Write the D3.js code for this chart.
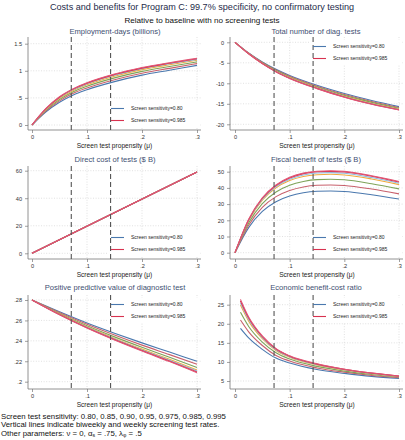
<!DOCTYPE html>
<html><head><meta charset="utf-8">
<script src="https://cdn.jsdelivr.net/npm/d3@7"></script>
<style>
body{margin:0;background:#fff;}
svg{display:block;font-family:"Liberation Sans",Arial,sans-serif;}
</style></head>
<body><svg id="c" width="405" height="440"></svg>
<script>
// ---------------- DATA ----------------
const sensitivities = ["0.80","0.85","0.90","0.95","0.975","0.985","0.995"];
const legendShown = [0, 5];
const xTickValues = [0, 0.1, 0.2, 0.3];
const xTickLabels = ["0", ".1", ".2", ".3"];
const screeningRates = [1/14, 1/7];

const xEmp = [0, .025, .05, .075, .1, .15, .2, .25, .3];
const empDays = [
  [0, .24, .42, .555, .65, .80, .92, 1.01, 1.10],
  [0, .255, .445, .584, .683, .835, .955, 1.045, 1.133],
  [0, .27, .47, .613, .715, .87, .99, 1.08, 1.165],
  [0, .283, .492, .638, .744, .901, 1.021, 1.111, 1.194],
  [0, .291, .505, .653, .761, .919, 1.039, 1.129, 1.211],
  [0, .296, .513, .662, .771, .930, 1.050, 1.140, 1.221],
  [0, .30, .52, .67, .78, .94, 1.06, 1.15, 1.23]
];
const empTicks = [0, .5, 1, 1.5], empTickLabels = ["0", ".5", "1", "1.5"];

const xDiag = [0, .025, .05, .075, .1, .15, .2, .25, .3];
const diagTests = [
  [0, -2.6, -4.8, -6.6, -8.1, -10.5, -12.5, -14.2, -15.7],
  [0, -2.65, -4.9, -6.75, -8.28, -10.7, -12.73, -14.43, -15.9],
  [0, -2.7, -5.0, -6.9, -8.45, -10.9, -12.95, -14.65, -16.1],
  [0, -2.74, -5.09, -7.03, -8.6, -11.08, -13.15, -14.85, -16.28],
  [0, -2.77, -5.14, -7.11, -8.7, -11.18, -13.27, -14.97, -16.38],
  [0, -2.79, -5.17, -7.16, -8.75, -11.24, -13.34, -15.04, -16.44],
  [0, -2.8, -5.2, -7.2, -8.8, -11.3, -13.4, -15.1, -16.5]
];
const diagTicks = [0, -5, -10, -15, -20], diagTickLabels = ["0", "-5", "-10", "-15", "-20"];

const xCost = [0, .3];
const directCost = [
  [0, 59], [0, 59], [0, 59], [0, 59], [0, 59], [0, 59], [0, 59]
];
const costTicks = [0, 20, 40, 60], costTickLabels = ["0", "20", "40", "60"];

const xFiscal = [0, .025, .05, .075, .1, .125, .15, .175, .2, .25, .3];
const fiscalBenefit = [
  [0, 15.5, 25.5, 31.5, 35.0, 37.0, 37.9, 38.1, 37.8, 35.8, 33.1],
  [0, 17.0, 28.0, 34.6, 38.4, 40.6, 41.6, 41.8, 41.5, 39.3, 36.3],
  [0, 18.4, 30.3, 37.5, 41.7, 44.0, 45.1, 45.3, 45.0, 42.6, 39.4],
  [0, 19.7, 32.4, 40.0, 44.5, 47.0, 48.1, 48.4, 48.0, 45.5, 42.0],
  [0, 20.1, 33.1, 40.9, 45.4, 48.0, 49.2, 49.4, 49.0, 46.4, 42.9],
  [0, 20.4, 33.6, 41.5, 46.1, 48.8, 50.0, 50.2, 49.8, 47.2, 43.6],
  [0, 20.6, 33.9, 41.8, 46.5, 49.1, 50.3, 50.6, 50.2, 47.5, 44.0]
];
const fiscalTicks = [0, 10, 20, 30, 40, 50], fiscalTickLabels = ["0", "10", "20", "30", "40", "50"];

const xPpv = [0, .05, .1, .15, .2, .25, .3];
const ppv = [
  [.28, .2685, .2575, .2475, .2380, .2290, .2200],
  [.28, .2677, .2562, .2457, .2358, .2265, .2170],
  [.28, .2669, .2548, .2439, .2337, .2240, .2140],
  [.28, .2662, .2537, .2424, .2319, .2219, .2115],
  [.28, .2659, .2532, .2417, .2311, .2210, .2104],
  [.28, .2657, .2528, .2413, .2306, .2203, .2096],
  [.28, .2655, .2525, .2408, .2300, .2197, .2088]
];
const ppvTicks = [.2, .22, .24, .26, .28], ppvTickLabels = [".2", ".22", ".24", ".26", ".28"];

const xBcr = [.01, .025, .05, .075, .1, .15, .2, .25, .3];
const benefitCost = [
  [18.8, 16.3, 13.3, 11.0, 9.7, 8.0, 7.0, 6.2, 5.7],
  [21.0, 17.9, 14.3, 11.7, 10.25, 8.43, 7.32, 6.46, 5.87],
  [23.0, 19.3, 15.2, 12.4, 10.75, 8.83, 7.6, 6.7, 6.03],
  [24.9, 20.7, 16.1, 13.0, 11.22, 9.2, 7.88, 6.92, 6.18],
  [25.5, 21.1, 16.4, 13.2, 11.37, 9.32, 7.97, 6.99, 6.23],
  [26.0, 21.5, 16.6, 13.38, 11.5, 9.43, 8.05, 7.06, 6.27],
  [26.4, 21.8, 16.8, 13.5, 11.6, 9.5, 8.1, 7.1, 6.3]
];
const bcrTicks = [5, 10, 15, 20, 25], bcrTickLabels = ["5", "10", "15", "20", "25"];

const titleText = "Costs and benefits for Program C: 99.7% specificity, no confirmatory testing";
const subtitleText = "Relative to baseline with no screening tests";
const xAxisTitle = "Screen test propensity (\u03bc)";
// ---------------- STYLE ----------------
const colors = ["#4a78ae", "#c8606c", "#7ea45a", "#f1ab3c", "#8fbddf", "#d8324f", "#e05675"];

// ---------------- LAYOUT ----------------
const cols = [
  {axisX: 28, x0: 32, x1: 197, right: 201, titleX: 115, legX: 108},
  {axisX: 230, x0: 235, x1: 399, right: 403, titleX: 316, legX: 310}
];
const rows = [
  {top: 37, bottom: 130, titleY: 34},
  {top: 166, bottom: 259, titleY: 162},
  {top: 295, bottom: 389, titleY: 290}
];

const panels = [
  {col:0,row:0,title:"Employment-days (billions)", xs:xEmp, data:empDays, ticks:empTicks, labels:empTickLabels, ref:[0,1.5], pix:[125,43.7], legendTop:false},
  {col:1,row:0,title:"Total number of diag. tests", xs:xDiag, data:diagTests, ticks:diagTicks, labels:diagTickLabels, ref:[0,-20], pix:[42.3,124.3], legendTop:true},
  {col:0,row:1,title:"Direct cost of tests ($ B)", xs:xCost, data:directCost, ticks:costTicks, labels:costTickLabels, ref:[0,60], pix:[253.3,170.7], legendTop:false},
  {col:1,row:1,title:"Fiscal benefit of tests ($ B)", xs:xFiscal, data:fiscalBenefit, ticks:fiscalTicks, labels:fiscalTickLabels, ref:[0,50], pix:[252.7,171.7], legendTop:false},
  {col:0,row:2,title:"Positive predictive value of diagnostic test", xs:xPpv, data:ppv, ticks:ppvTicks, labels:ppvTickLabels, ref:[.2,.28], pix:[381.7,300], legendTop:true},
  {col:1,row:2,title:"Economic benefit-cost ratio", xs:xBcr, data:benefitCost, ticks:bcrTicks, labels:bcrTickLabels, ref:[5,25], pix:[381,304.7], legendTop:true}
];

const svg = d3.select("#c");
svg.append("text").attr("x", 202).attr("y", 10).attr("text-anchor","middle")
  .attr("font-size", 9.1).attr("fill", "#1e2b4a").text(titleText);
svg.append("text").attr("x", 202).attr("y", 23).attr("text-anchor","middle")
  .attr("font-size", 8.1).attr("fill", "#111").text(subtitleText);

panels.forEach(p => {
  const c = cols[p.col], r = rows[p.row];
  const g = svg.append("g");
  const x = d3.scaleLinear().domain([0, .3]).range([c.x0, c.x1]);
  const y = d3.scaleLinear().domain(p.ref).range(p.pix);

  g.append("text").attr("x", c.titleX).attr("y", r.titleY).attr("text-anchor","middle")
    .attr("font-size", 7.6).attr("fill", "#3e4f72").text(p.title);

  g.selectAll(".hg").data(p.ticks).join("line")
    .attr("x1", c.axisX).attr("x2", c.right)
    .attr("y1", d => y(d)).attr("y2", d => y(d))
    .attr("stroke", "#d4d4d4").attr("stroke-width", 0.7).attr("stroke-dasharray", "1,1.6");
  g.selectAll(".vg").data(xTickValues.slice(1)).join("line")
    .attr("x1", d => x(d)).attr("x2", d => x(d))
    .attr("y1", r.top).attr("y2", r.bottom)
    .attr("stroke", "#d4d4d4").attr("stroke-width", 0.7).attr("stroke-dasharray", "1,1.6");

  const yAxis = d3.axisLeft(y).tickValues(p.ticks).tickFormat((d,i) => p.labels[i]).tickSize(3).tickPadding(3);
  const ya = g.append("g").attr("transform", `translate(${c.axisX},0)`).call(yAxis);
  ya.select(".domain").remove();
  ya.append("line").attr("x1",0).attr("x2",0).attr("y1", r.top).attr("y2", r.bottom).attr("stroke","#777").attr("stroke-width",0.8);
  ya.selectAll(".tick line").attr("stroke","#777").attr("stroke-width",0.7);
  ya.selectAll(".tick text").attr("font-size", 5.6).attr("fill","#333").attr("font-family","Liberation Sans, Arial, sans-serif");

  const xAxis = d3.axisBottom(x).tickValues(xTickValues).tickFormat((d,i) => xTickLabels[i]).tickSize(3).tickPadding(2);
  const xa = g.append("g").attr("transform", `translate(0,${r.bottom})`).call(xAxis);
  xa.select(".domain").remove();
  xa.append("line").attr("x1", c.axisX).attr("x2", c.right).attr("y1",0).attr("y2",0).attr("stroke","#777").attr("stroke-width",0.8);
  xa.selectAll(".tick line").attr("stroke","#777").attr("stroke-width",0.7);
  xa.selectAll(".tick text").attr("font-size", 5.6).attr("fill","#333").attr("font-family","Liberation Sans, Arial, sans-serif");

  g.append("text").attr("x", (c.x0 + c.x1)/2).attr("y", r.bottom + 17.5).attr("text-anchor","middle")
    .attr("font-size", 6.6).attr("fill","#222").text(xAxisTitle);

  const ly0 = p.legendTop ? r.top + 3 : r.bottom - 28;
  g.append("rect").attr("x", c.legX).attr("y", ly0).attr("width", c.right - c.legX - 1).attr("height", 25).attr("fill", "#fff");

  const line = d3.line().x((d,i) => x(p.xs[i])).y(d => y(d)).curve(d3.curveMonotoneX);
  g.selectAll(".series").data(p.data).join("path")
    .attr("d", d => line(d)).attr("fill","none")
    .attr("stroke", (d,i) => colors[i]).attr("stroke-width", 1.1);

  g.selectAll(".vr").data(screeningRates).join("line")
    .attr("x1", d => x(d)).attr("x2", d => x(d))
    .attr("y1", r.top).attr("y2", r.bottom)
    .attr("stroke", "#555").attr("stroke-width", 1.1).attr("stroke-dasharray", "5,3");

  legendShown.forEach((si, k) => {
    const yy = ly0 + 6.5 + k * 12;
    g.append("line").attr("x1", c.legX + 3).attr("x2", c.legX + 16).attr("y1", yy).attr("y2", yy)
      .attr("stroke", colors[si]).attr("stroke-width", 1.1);
    g.append("text").attr("x", c.legX + 23).attr("y", yy + 1.8).attr("font-size", 5.0).attr("fill","#222")
      .text("Screen sensitivity=" + sensitivities[si]);
  });
});

const foot = svg.append("g").attr("font-size", 7.8).attr("fill", "#111");
foot.append("text").attr("x", 1).attr("y", 418.5).text("Screen test sensitivity: " + sensitivities.join(", "));
foot.append("text").attr("x", 1).attr("y", 427).text("Vertical lines indicate biweekly and weekly screening test rates.");
const f3 = foot.append("text").attr("x", 1).attr("y", 435.5);
f3.append("tspan").text("Other parameters: \u03bd = 0, \u03b1");
f3.append("tspan").attr("font-size", 5.2).attr("dy", 1.3).text("s");
f3.append("tspan").attr("dy", -1.3).text(" = .75, \u03bb");
f3.append("tspan").attr("font-size", 5.2).attr("dy", 1.3).text("\u03c6");
f3.append("tspan").attr("dy", -1.3).text(" = .5");
</script></body></html>
